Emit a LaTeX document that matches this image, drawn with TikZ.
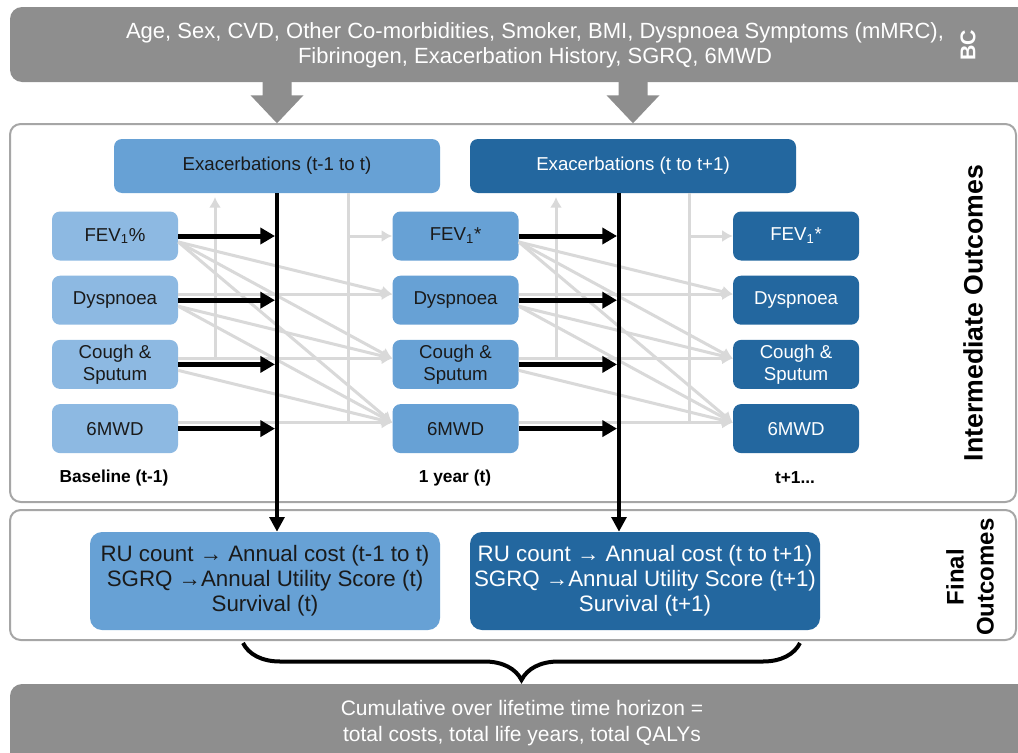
\documentclass[tikz,border=0pt]{standalone}
\usepackage{fontspec}
\setmainfont{Liberation Sans}
\usetikzlibrary{shapes, arrows.meta, positioning, decorations.pathreplacing}

\definecolor{barGrey}{HTML}{8E8E8E}
\definecolor{panelLine}{HTML}{A6A6A6}
\definecolor{paleBlue}{HTML}{8DB9E2}
\definecolor{midBlue}{HTML}{67A1D5}
\definecolor{deepBlue}{HTML}{23679F}
\definecolor{fadeGrey}{HTML}{D9D9D9}
\definecolor{inkDark}{HTML}{1A1A1A}

\newcommand{\sz}[2]{\fontsize{#1}{#2}\selectfont}
\tikzstyle{bar} = [fill=barGrey, rounded corners=9pt, minimum width=765pt, minimum height=56.25pt]
\tikzstyle{bartext} = [text=white, align=center, font=\sz{16.5pt}{18.75pt}]
\tikzstyle{panel} = [draw=panelLine, line width=1.5pt, fill=white, rounded corners=8pt, minimum width=754.5pt]
\tikzstyle{block} = [rectangle, rounded corners=6pt, minimum width=94.5pt, minimum height=36.75pt, inner sep=1pt, align=center, font=\sz{14pt}{16.5pt}]
\tikzstyle{basebox} = [block, fill=paleBlue, text=inkDark]
\tikzstyle{yearbox} = [block, fill=midBlue, text=inkDark]
\tikzstyle{laterbox} = [block, fill=deepBlue, text=white]
\tikzstyle{exbox} = [minimum width=244.5pt, minimum height=40.5pt]
\tikzstyle{outbox} = [rounded corners=9pt, minimum width=262.5pt, minimum height=73.5pt, font=\sz{16.75pt}{18.75pt}]
\tikzstyle{stage} = [font=\bfseries\sz{13pt}{15pt}, text=black]
\tikzstyle{side} = [rotate=90, align=center, font=\bfseries\sz{20pt}{22pt}]
\tikzstyle{fadeline} = [draw=fadeGrey, line width=2.25pt]
\tikzstyle{fadearrow} = [fadeline, -{Latex[length=8pt,width=9pt]}]
\tikzstyle{flow} = [draw=black, line width=3.75pt, -{Triangle[length=11pt,width=12pt]}]
\tikzstyle{bus} = [draw=black, line width=3pt, -{Triangle[length=11pt,width=11pt]}]
\tikzstyle{curly} = [draw=black, line width=3pt, decorate, decoration={brace, amplitude=27.75pt}]

\begin{document}
\begin{tikzpicture}[x=0.75pt, y=-0.75pt, >=Latex]
    \useasboundingbox (0,0) rectangle (1018,753);
    \clip (0,0) rectangle (1018,753);

    % bars and panels
    \node [bar] (bc) at (520,44.5) {};
    \node [bartext] at (535,45) {Age, Sex, CVD, Other Co-morbidities, Smoker, BMI, Dyspnoea Symptoms (mMRC),\\Fibrinogen, Exacerbation History, SGRQ, 6MWD};
    \node [side, text=white, font=\bfseries\sz{16pt}{18pt}] at (968,45) {BC};
    \node [panel, minimum height=283.5pt] (inter) at (513,313) {};
    \node [side] at (973,313) {Intermediate Outcomes};
    \node [panel, minimum height=97.5pt] (final) at (513,575) {};
    \node [side, font=\bfseries\sz{18pt}{22.5pt}] at (970,577) {Final\\Outcomes};
    \node [bar, minimum height=64.5pt] (cum) at (520,727) {};
    \node [bartext, font=\sz{15.75pt}{19.5pt}] at (522,723) {Cumulative over lifetime time horizon =\\total costs, total life years, total QALYs};

    % exacerbations
    \node [yearbox, exbox] (exA) at (277,166) {Exacerbations (t-1 to t)};
    \node [laterbox, exbox, text=white] (exB) at (633,166) {Exacerbations (t to t+1)};

    % outcome columns
    \node [basebox] (fevA) at (115,236) {FEV\textsubscript{1}\%};
    \node [basebox, below=11pt of fevA] (dysA) {Dyspnoea};
    \node [basebox, below=11pt of dysA] (couA) {Cough \&\\Sputum};
    \node [basebox, below=11pt of couA] (mwdA) {6MWD};
    \node [yearbox, right=160.5pt of fevA] (fevB) {FEV\textsubscript{1}*};
    \node [yearbox, below=11pt of fevB] (dysB) {Dyspnoea};
    \node [yearbox, below=11pt of dysB] (couB) {Cough \&\\Sputum};
    \node [yearbox, below=11pt of couB] (mwdB) {6MWD};
    \node [laterbox, right=160.5pt of fevB] (fevC) {FEV\textsubscript{1}*};
    \node [laterbox, below=11pt of fevC] (dysC) {Dyspnoea};
    \node [laterbox, below=11pt of dysC] (couC) {Cough \&\\Sputum};
    \node [laterbox, below=11pt of couC] (mwdC) {6MWD};
    \node [stage] at (114,478) {Baseline (t-1)};
    \node [stage] at (455,478) {1 year (t)};
    \node [stage] at (795,478) {t+1...};

    % final outcomes
    \node [yearbox, outbox] (finA) at (265,581) {RU count → Annual cost (t-1 to t)\\SGRQ →Annual Utility Score (t)\\Survival (t)};
    \node [laterbox, outbox, text=white] (finB) at (645,581) {RU count → Annual cost (t to t+1)\\SGRQ →Annual Utility Score (t+1)\\Survival (t+1)};

    % inputs into the model
    \foreach \ex in {exA, exB}
        \fill [barGrey, shift={(\ex.north |- bc.south)}] (-14.5,-2) -- (14.5,-2) -- (14.5,13) -- (26.5,13) -- (0,41) -- (-26.5,13) -- (-14.5,13) -- cycle;

    % grey links between years
    \coordinate (upA) at (215,193);
    \coordinate (dnA) at (348,193);
    \coordinate (upB) at (556,193);
    \coordinate (dnB) at (689,193);
    \foreach \s/\t in {A/B, B/C} {
        \draw [fadearrow, shorten >=3pt] ([yshift=4.5pt]up\s |- cou\s.east) -- (up\s);
        \draw [fadeline] (dn\s) -- ([yshift=4.5pt]dn\s |- mwd\s.east);
        \draw [fadearrow] (dn\s |- fev\t.west) -- (fev\t.west);
        \path [every edge/.style={fadearrow}] ([yshift=4.5pt]dys\s.east) edge ([yshift=4.5pt]dys\t.west)
            ([yshift=4.5pt]cou\s.east) edge ([yshift=4.5pt]cou\t.west)
            ([yshift=4.5pt]mwd\s.east) edge ([yshift=4.5pt]mwd\t.west)
            ([yshift=-4.5pt]fev\s.east) edge ([yshift=4.5pt]dys\t.west)
            edge ([yshift=4.5pt]cou\t.west) edge ([yshift=4.5pt]mwd\t.west)
            ([yshift=-4.5pt]dys\s.east) edge ([yshift=4.5pt]cou\t.west)
            edge ([yshift=4.5pt]mwd\t.west)
            ([yshift=-4.5pt]cou\s.east) edge ([yshift=4.5pt]mwd\t.west);
    }

    % exacerbation paths
    \coordinate (busA) at (exA.south);
    \coordinate (busB) at ([xshift=-10.5pt]exB.south);
    \draw [bus] (busA) -- (busA |- finA.north);
    \draw [bus] (busB) -- (busB |- finB.north);
    \foreach \r in {fev, dys, cou, mwd} {
        \draw [flow, shorten >=1.5pt] (\r A.east) -- (\r A.east -| busA);
        \draw [flow, shorten >=1.5pt] (\r B.east) -- (\r B.east -| busB);
    }

    % lifetime totals
    \draw [curly] (800,643) -- (243,643);
\end{tikzpicture}
\end{document}
